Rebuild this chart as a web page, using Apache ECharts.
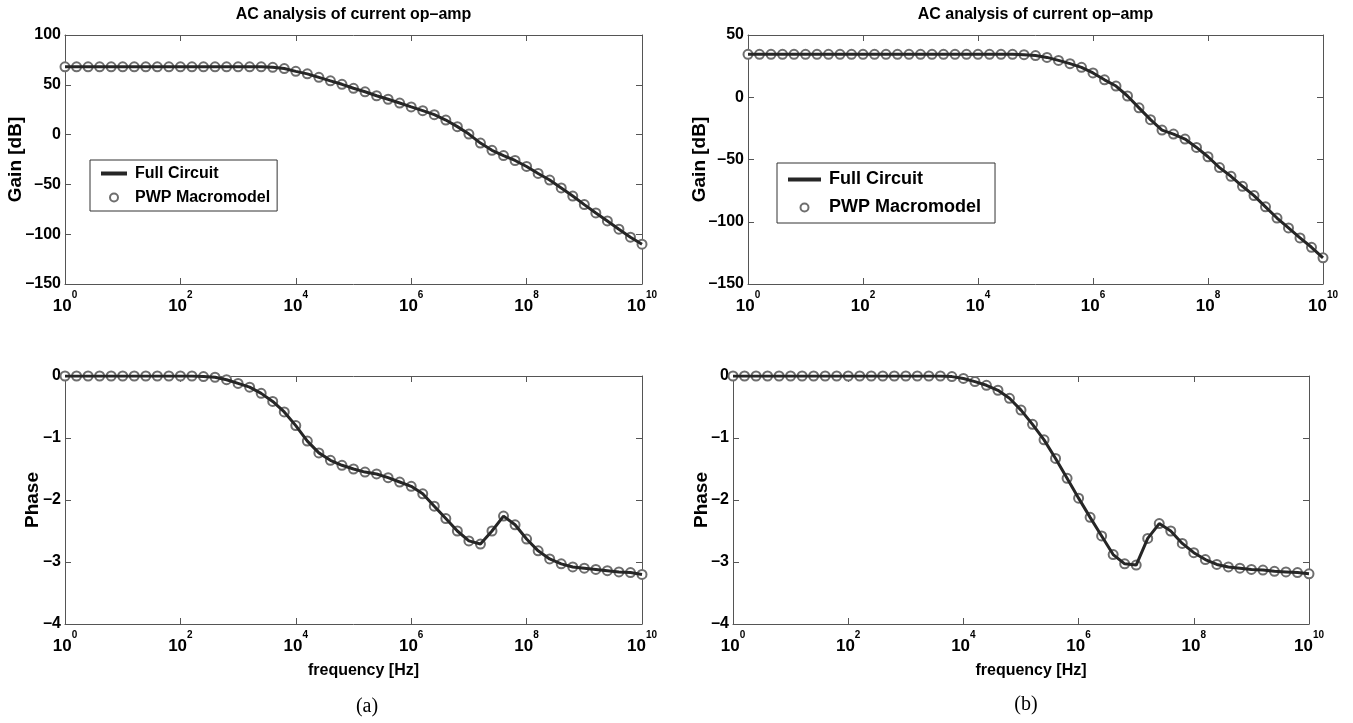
<!DOCTYPE html>
<html>
<head>
<meta charset="utf-8">
<title>AC analysis of current op-amp</title>
<script src="https://cdn.jsdelivr.net/npm/echarts@6/dist/echarts.min.js"></script>
<style>
html,body{margin:0;padding:0;background:#fff;}
#main{width:1353px;height:723px;}
</style>
</head>
<body>
<div id="main"></div>
<script>
// log10 of the sweep frequencies (5 points per decade)
var logFreq = [0,0.2,0.4,0.6,0.8,1,1.2,1.4,1.6,1.8,2,2.2,2.4,2.6,2.8,3,3.2,3.4,3.6,3.8,4,4.2,4.4,4.6,4.8,5,5.2,5.4,5.6,5.8,6,6.2,6.4,6.6,6.8,7,7.2,7.4,7.6,7.8,8,8.2,8.4,8.6,8.8,9,9.2,9.4,9.6,9.8,10];

// (a) gain [dB]
var gainA = [68,68,68,68,68,68,68,68,68,68,68,68,68,68,68,68,68,68,
	67.6,66.3,63.5,61,57.5,54,50.5,46.5,43,39,35.5,31.7,27.8,24,20,14.6,8,0.5,
	-8.5,-15.8,-21,-26,-32,-39,-45.6,-53.6,-61.7,-70.3,-78.7,-86.7,-95,-103,-110];
// (b) gain [dB]
var gainB = [34.5,34.5,34.5,34.5,34.5,34.5,34.5,34.5,34.5,34.5,34.5,34.5,34.5,34.5,34.5,34.5,34.5,34.5,34.5,34.5,34.5,34.5,34.5,34.5,
	34.2,33.5,32,29.6,27,24,19.5,14,9,1,-8.5,-18,-26.4,-29.6,-33.6,-40.3,-47.8,
	-56.5,-63.5,-71.5,-79,-88,-97,-105,-113,-120.5,-129];
// (a) phase
var phaseA = [0,0,0,0,0,0,0,0,0,0,0,0,
	-0.01,-0.02,-0.06,-0.12,-0.18,-0.28,-0.41,-0.58,-0.8,-1.05,-1.24,-1.36,-1.44,-1.5,
	-1.55,-1.58,-1.64,-1.71,-1.78,-1.9,-2.1,-2.3,-2.5,-2.66,-2.71,-2.5,-2.26,-2.4,
	-2.63,-2.82,-2.95,-3.03,-3.08,-3.1,-3.12,-3.14,-3.16,-3.17,-3.2];
// (b) phase
var phaseB = [0,0,0,0,0,0,0,0,0,0,0,0,0,0,0,0,0,0,0,
	-0.01,-0.04,-0.09,-0.15,-0.23,-0.36,-0.55,-0.78,-1.03,-1.33,-1.65,-1.97,-2.28,
	-2.58,-2.88,-3.03,-3.05,-2.62,-2.38,-2.5,-2.7,-2.85,-2.96,-3.04,-3.08,-3.1,
	-3.12,-3.13,-3.15,-3.16,-3.17,-3.19];

var xTickVals = [1,1e2,1e4,1e6,1e8,1e10];
var titleText = 'AC analysis of current op\u2013amp';
var seriesNames = ['Full Circuit','PWP Macromodel'];

var FONT = "'Liberation Sans', Arial, Helvetica, sans-serif";
var AXIS_COLOR = '#555';
var LINE_COLOR = '#262626';

var panels = [
	{grid:{left:65, top:35, width:577, height:249}, y:gainA, min:-150, max:100, interval:50, yName:'Gain [dB]', yGap:40, xName:''},
	{grid:{left:748, top:35, width:575, height:249}, y:gainB, min:-150, max:50, interval:50, yName:'Gain [dB]', yGap:39, xName:''},
	{grid:{left:65, top:376, width:577, height:248}, y:phaseA, min:-4, max:0, interval:1, yName:'Phase', yGap:23, xName:'frequency [Hz]'},
	{grid:{left:733, top:376, width:576, height:248}, y:phaseB, min:-4, max:0, interval:1, yName:'Phase', yGap:22, xName:'frequency [Hz]'}
];

function toPairs(vals){
	var out = [];
	for(var i=0;i<vals.length;i++){
		out.push([Math.pow(10, logFreq[i]), vals[i]]);
	}
	return out;
}

function xLabel(v){
	return '{b|10}{s|' + Math.round(Math.log10(v)) + '}';
}

function yLabel(v){
	return String(v).replace('-', '\u2013');
}

var grids = [], xAxes = [], yAxes = [], series = [];

for(var i=0;i<panels.length;i++){
	var p = panels[i];
	grids.push(p.grid);
	var tickStyle = {show:true, inside:true, length:6, customValues:xTickVals, lineStyle:{color:AXIS_COLOR, width:1}};
	xAxes.push({
		gridIndex:i, type:'log', logBase:10, min:1, max:1e10, position:'bottom',
		name:p.xName, nameLocation:'middle', nameGap:39, nameMoveOverlap:false,
		nameTextStyle:{fontFamily:FONT, fontWeight:'bold', fontSize:16, color:'#000', padding:[0,0,0,20]},
		axisLine:{show:true, onZero:false, lineStyle:{color:AXIS_COLOR, width:1}},
		axisTick:tickStyle,
		axisLabel:{
			customValues:xTickVals, margin:6, formatter:xLabel,
			rich:{
				b:{fontFamily:FONT, fontWeight:'bold', fontSize:17, color:'#000', lineHeight:25, verticalAlign:'bottom'},
				s:{fontFamily:FONT, fontWeight:'bold', fontSize:10, color:'#000', lineHeight:12, verticalAlign:'top'}
			}
		},
		splitLine:{show:false}, minorTick:{show:false}
	});
	xAxes.push({
		gridIndex:i, type:'log', logBase:10, min:1, max:1e10, position:'top',
		axisLine:{show:true, onZero:false, lineStyle:{color:AXIS_COLOR, width:1}},
		axisTick:tickStyle,
		axisLabel:{show:false},
		splitLine:{show:false}
	});
	yAxes.push({
		gridIndex:i, type:'value', min:p.min, max:p.max, interval:p.interval, position:'left',
		name:p.yName, nameLocation:'middle', nameGap:p.yGap, nameMoveOverlap:false,
		nameTextStyle:{fontFamily:FONT, fontWeight:'bold', fontSize:19, color:'#000'},
		axisLine:{show:true, onZero:false, lineStyle:{color:AXIS_COLOR, width:1}},
		axisTick:{show:true, inside:true, length:6, lineStyle:{color:AXIS_COLOR}},
		axisLabel:{margin:4, fontFamily:FONT, fontWeight:'bold', fontSize:16, color:'#000', formatter:yLabel},
		splitLine:{show:false}
	});
	yAxes.push({
		gridIndex:i, type:'value', min:p.min, max:p.max, interval:p.interval, position:'right',
		axisLine:{show:true, onZero:false, lineStyle:{color:AXIS_COLOR, width:1}},
		axisTick:{show:true, inside:true, length:6, lineStyle:{color:AXIS_COLOR}},
		axisLabel:{show:false},
		splitLine:{show:false}
	});
	var pts = toPairs(p.y);
	series.push({
		name:seriesNames[1], type:'line', xAxisIndex:2*i, yAxisIndex:2*i,
		data:pts, symbol:'emptyCircle', symbolSize:9, showSymbol:true, z:2,
		color:'#6e6e6e',
		itemStyle:{color:'#6e6e6e', borderWidth:1.2},
		lineStyle:{opacity:0}
	});
	series.push({
		name:seriesNames[0], type:'line', xAxisIndex:2*i, yAxisIndex:2*i,
		data:pts, symbol:'none', smooth:false, z:3,
		color:LINE_COLOR,
		itemStyle:{color:LINE_COLOR},
		lineStyle:{color:LINE_COLOR, width:3}
	});
}

function makeLegend(left, top, size, lineW, pad, gap){
	return {
		left:left, top:top, orient:'vertical',
		padding:pad, itemGap:gap, itemWidth:lineW, itemHeight:10,
		borderColor:'#333', borderWidth:1, backgroundColor:'#fff',
		selectedMode:false,
		textStyle:{fontFamily:FONT, fontWeight:'bold', fontSize:size, color:'#000', lineHeight:size+5, padding:[0,0,0,3]},
		data:[
			{name:seriesNames[0], icon:'path://M0,0L' + lineW + ',0L' + lineW + ',4L0,4Z', itemStyle:{color:LINE_COLOR}},
			{name:seriesNames[1], lineStyle:{opacity:0}}
		]
	};
}

var chart = echarts.init(document.getElementById('main'));
chart.setOption({
	animation:false,
	backgroundColor:'#fff',
	grid:grids,
	xAxis:xAxes,
	yAxis:yAxes,
	legend:[
		makeLegend(90, 160, 16, 26, [3,7,3,10], 3),
		makeLegend(777, 163, 18, 33, [5,14,4,10], 5)
	],
	graphic:[
		{type:'text', x:353.5, y:15, style:{text:titleText, fontFamily:FONT, fontWeight:'bold', fontSize:16, fill:'#000', align:'center', verticalAlign:'middle', textAlign:'center', textVerticalAlign:'middle'}},
		{type:'text', x:1035.5, y:15, style:{text:titleText, fontFamily:FONT, fontWeight:'bold', fontSize:16, fill:'#000', align:'center', verticalAlign:'middle', textAlign:'center', textVerticalAlign:'middle'}},
		{type:'text', x:367, y:707, style:{text:'(a)', fontFamily:"'Liberation Serif', 'Times New Roman', serif", fontSize:20, fill:'#000', align:'center', verticalAlign:'middle', textAlign:'center', textVerticalAlign:'middle'}},
		{type:'text', x:1026, y:705, style:{text:'(b)', fontFamily:"'Liberation Serif', 'Times New Roman', serif", fontSize:20, fill:'#000', align:'center', verticalAlign:'middle', textAlign:'center', textVerticalAlign:'middle'}}
	],
	series:series
});
</script>
</body>
</html>
